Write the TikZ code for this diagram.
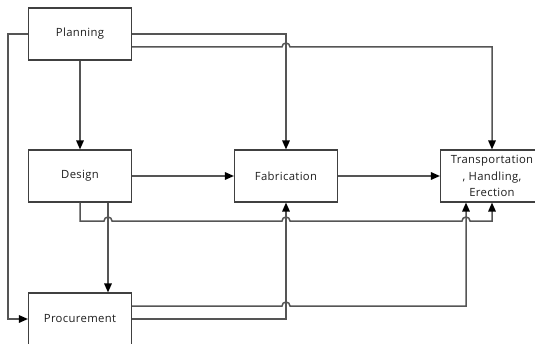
\documentclass[tikz,border=0pt]{standalone}
\usepackage{fontspec}
\setmainfont{Open Sans}[LetterSpace=3]
\usetikzlibrary{arrows.meta}
\definecolor{linegray}{HTML}{555555}
\definecolor{boxgray}{HTML}{404040}
\definecolor{textgray}{HTML}{1E1E1E}
\tikzset{
  block/.style={draw=boxgray, line width=1.1pt, fill=white, minimum width=103pt, minimum height=52pt,
    inner sep=0pt, align=center, text=textgray, font=\fontsize{11.3}{16.5}\selectfont},
  conn/.style={draw=linegray, line width=1.5pt},
  arr/.style={conn, -{Triangle[length=9pt,width=7.5pt,fill=black,color=black]}}
}
% horizontal line hop over a crossing vertical line at x-position #1
\newcommand{\hopat}[1]{-- ({#1-4},\hy) arc[start angle=180,end angle=0,radius=4pt]}
\begin{document}
\begin{tikzpicture}[x=1pt,y=1pt]
\useasboundingbox (0,0) rectangle (535,343);

\node[block] (plan)  at (80,309) {Planning};
\node[block] (des)   at (80,167) {Design};
\node[block] (fab)   at (286,167) {Fabrication};
\node[block] (trans) at (492,167) {Transportation\\, Handling,\\Erection};
\node[block] (proc)  at (80,24) {Procurement};

% Planning -> Procurement along the left margin
\draw[arr] (plan.west) -- ++(-20,0) |- (proc.west);
% Planning -> Design
\draw[arr] (plan.south) -- (des.north);
% Planning -> Fabrication
\draw[arr] (plan.east) -| (fab.north);
% Planning -> Transportation, hopping over the Fabrication feed
\def\hy{296}
\coordinate (pt) at (plan.east |- 0,\hy);
\draw[arr] (pt) \hopat{286} -- (trans.north |- 0,\hy) -- (trans.north);

% Design -> Fabrication -> Transportation
\draw[arr] (des.east) -- (fab.west);
\draw[arr] (fab.east) -- (trans.west);

% Design -> Transportation along the lower channel
\def\hy{122}
\draw[arr] (des.south) -- (80,\hy) \hopat{108} \hopat{286} \hopat{466} -- (trans.south |- 0,\hy) -- (trans.south);

% Design -> Procurement
\coordinate (dp) at ([xshift=28pt]des.south);
\draw[arr] (dp) -- (dp |- proc.north);

% Procurement -> Transportation, hopping over the Fabrication feed
\def\hy{37}
\coordinate (pr) at (proc.east |- 0,\hy);
\coordinate (tb) at ([xshift=-26pt]trans.south);
\draw[arr] (pr) \hopat{286} -- (tb |- 0,\hy) -- (tb);

% Procurement -> Fabrication
\draw[arr] (proc.east) -| (fab.south);
\end{tikzpicture}
\end{document}
